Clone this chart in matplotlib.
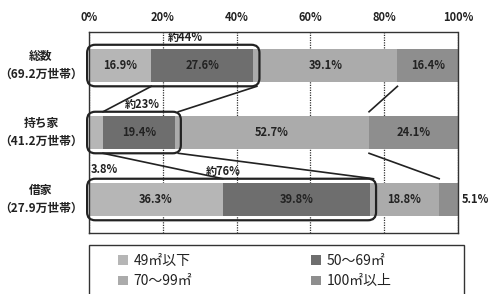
import matplotlib.pyplot as plt
from matplotlib.patches import FancyBboxPatch, Patch, Rectangle
import numpy as np

plt.rcParams['font.family'] = ['Noto Sans CJK JP', 'DejaVu Sans']

groups = ["総数\n（69.2万世帯）", "持ち家\n（41.2万世帯）", "借家\n（27.9万世帯）"]
sizes = ["49㎡以下", "50〜69㎡", "70〜99㎡", "100㎡以上"]
shares = np.array([
    [16.9, 27.6, 39.1, 16.4],
    [3.8, 19.4, 52.7, 24.1],
    [36.3, 39.8, 18.8, 5.1],
])
box_labels = ["約44%", "約23%", "約76%"]
box_label_x = [26, 14.5, 36.5]
ticks = [0, 20, 40, 60, 80, 100]
colors = ["#b6b6b6", "#6e6e6e", "#ababab", "#8e8e8e"]

H = 0.48
dark = "#222222"

fig = plt.figure(figsize=(4.97, 2.94), dpi=100)
ax = fig.add_axes([0.179, 0.2075, 0.7425, 0.6835])

ypos = np.arange(len(groups))
left = np.zeros(len(groups))
for j in range(len(sizes)):
    ax.barh(ypos, shares[:, j], left=left, height=H, color=colors[j],
            edgecolor="none", label=sizes[j], zorder=2)
    for i in range(len(groups)):
        v = shares[i, j]
        if v >= 10:
            ax.text(left[i] + v / 2, ypos[i], f"{v}%", ha="center", va="center",
                    fontsize=8, color=dark, weight="bold", zorder=4)
    left += shares[:, j]

# small segments labelled outside the bar
ax.text(0.5, 1.55, f"{shares[1, 0]}%", ha="left", va="center", fontsize=8,
        color=dark, weight="bold")
ax.text(101, 2, f"{shares[2, 3]}%", ha="left", va="center", fontsize=8,
        color=dark, weight="bold", clip_on=False)

cum = np.cumsum(shares, axis=1)

# rounded boxes around the two smallest size classes
pad_y = 0.07
aspect = (0.7425 * 497 / 100) / (0.6835 * 294 / 3)
for i in range(len(groups)):
    right = cum[i, 1]
    box = FancyBboxPatch((-0.5, ypos[i] - H / 2 - pad_y), right + 2.2, H + 2 * pad_y,
                         boxstyle="round,pad=0,rounding_size=2.2",
                         mutation_aspect=aspect,
                         fc="none", ec=dark, lw=1.6, zorder=5, clip_on=False)
    ax.add_patch(box)
    ax.text(box_label_x[i], ypos[i] - H / 2 - pad_y - 0.01, box_labels[i],
            ha="center", va="bottom", fontsize=8, color=dark, weight="bold", zorder=6)

# connecting lines between rows
for i in range(len(groups) - 1):
    y0 = ypos[i] + H / 2 + pad_y
    y1 = ypos[i + 1] - H / 2 - pad_y
    for x0, x1 in [(cum[i, 0], cum[i + 1, 0]), (cum[i, 1] + 1, cum[i + 1, 1] + 1),
                   (cum[i, 2], cum[i + 1, 2])]:
        ax.plot([x0, x1], [y0, y1], color=dark, lw=1.2, zorder=3)

ax.set_xlim(0, 100)
ax.set_ylim(2.5, -0.5)
ax.set_xticks(ticks)
ax.set_xticklabels([f"{t}%" for t in ticks], fontsize=8, weight="bold", color=dark)
ax.xaxis.tick_top()
ax.tick_params(axis="x", length=0, pad=6)
ax.set_yticks([])
for i, g in enumerate(groups):
    ax.text(-0.13, ypos[i], g, transform=ax.get_yaxis_transform(), ha="center",
            va="center", fontsize=8.5, weight="bold", color=dark, linespacing=1.55)
ax.grid(axis="x", color="#333333", lw=0.9, ls=(0, (1, 1)), zorder=1)
for side in ["top", "left"]:
    ax.spines[side].set_linestyle((0, (1, 1)))
for s in ax.spines.values():
    s.set_color("#333333")
    s.set_linewidth(1.0)

# legend: frame spanning the plot width, entries row-wise in two columns
ax.add_patch(Rectangle((0, -0.34), 1.016, 0.28, transform=ax.transAxes, fc="white",
                       ec="#333333", lw=1.0, clip_on=False))
order = [0, 2, 1, 3]
handles = [Patch(facecolor=colors[k], edgecolor="none") for k in order]
leg = ax.legend(handles, [sizes[k] for k in order], loc="upper left",
                bbox_to_anchor=(0.06, -0.07), ncol=2, fontsize=10, frameon=False,
                handlelength=0.7, handleheight=0.7, handletextpad=0.4,
                borderpad=0.0, labelspacing=0.45, columnspacing=8.6)
for t in leg.get_texts():
    t.set_color(dark)

fig.savefig("out.png", dpi=100)
